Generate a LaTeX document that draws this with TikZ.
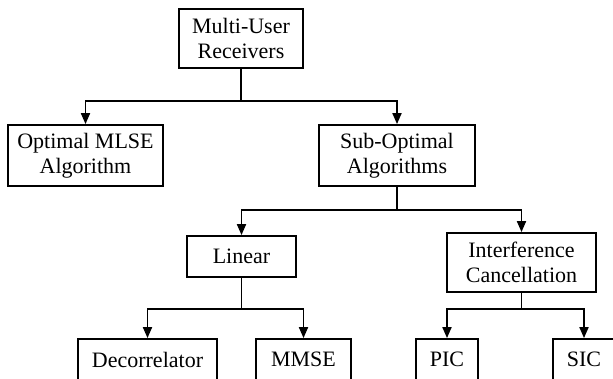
\documentclass[tikz,border=0pt]{standalone}
\usepackage{fontspec}
\setmainfont{Liberation Serif}
\usetikzlibrary{arrows.meta}
\begin{document}
\begin{tikzpicture}[x=1pt,y=-1pt,
    box/.style={draw,line width=1.8pt,inner sep=0pt,align=center,font=\fontsize{22}{25}\selectfont},
    link/.style={line width=1.8pt},
    arr/.style={line width=1.8pt,-{Triangle[length=11pt,width=9pt]}}]
    \useasboundingbox (0,0) rectangle (613,379);
    \clip (0,0) rectangle (613,379);
    % boxes
    \node[box,minimum width=124pt,minimum height=59pt] (root) at (241,38.5) {Multi-User\\Receivers};
    \node[box,minimum width=155pt,minimum height=61pt] (opt) at (85.5,155.5) {Optimal MLSE\\Algorithm};
    \node[box,minimum width=156pt,minimum height=61pt] (sub) at (397,155.5) {Sub-Optimal\\Algorithms};
    \node[box,minimum width=109pt,minimum height=41pt] (lin) at (241.5,256.5) {Linear};
    \node[box,minimum width=149pt,minimum height=59pt] (intf) at (521.5,262.5) {Interference\\Cancellation};
    \node[box,minimum width=139pt,minimum height=41pt] (dec) at (147.5,359.5) {Decorrelator};
    \node[box,minimum width=95pt,minimum height=41pt] (mmse) at (303.5,359.5) {MMSE};
    \node[box,minimum width=62pt,minimum height=41pt] (pic) at (447,359.5) {PIC};
    \node[box,minimum width=62pt,minimum height=41pt] (sic) at (584,359.5) {SIC};
    % branch points
    \coordinate (j1) at (241,101);
    \coordinate (j2) at (397,210);
    \coordinate (j3) at (241.5,309);
    \coordinate (j4) at (521.5,309);
    % connectors
    \draw[link] (root) -- (j1);
    \draw[arr] (j1) -| (opt);
    \draw[arr] (j1) -| (sub);
    \draw[link] (sub) -- (j2);
    \draw[arr] (j2) -| (lin);
    \draw[arr] (j2) -| (intf);
    \draw[link] (lin) -- (j3);
    \draw[arr] (j3) -| (dec);
    \draw[arr] (j3) -| (mmse);
    \draw[link] (intf) -- (j4);
    \draw[arr] (j4) -| (pic);
    \draw[arr] (j4) -| (sic);
\end{tikzpicture}
\end{document}
